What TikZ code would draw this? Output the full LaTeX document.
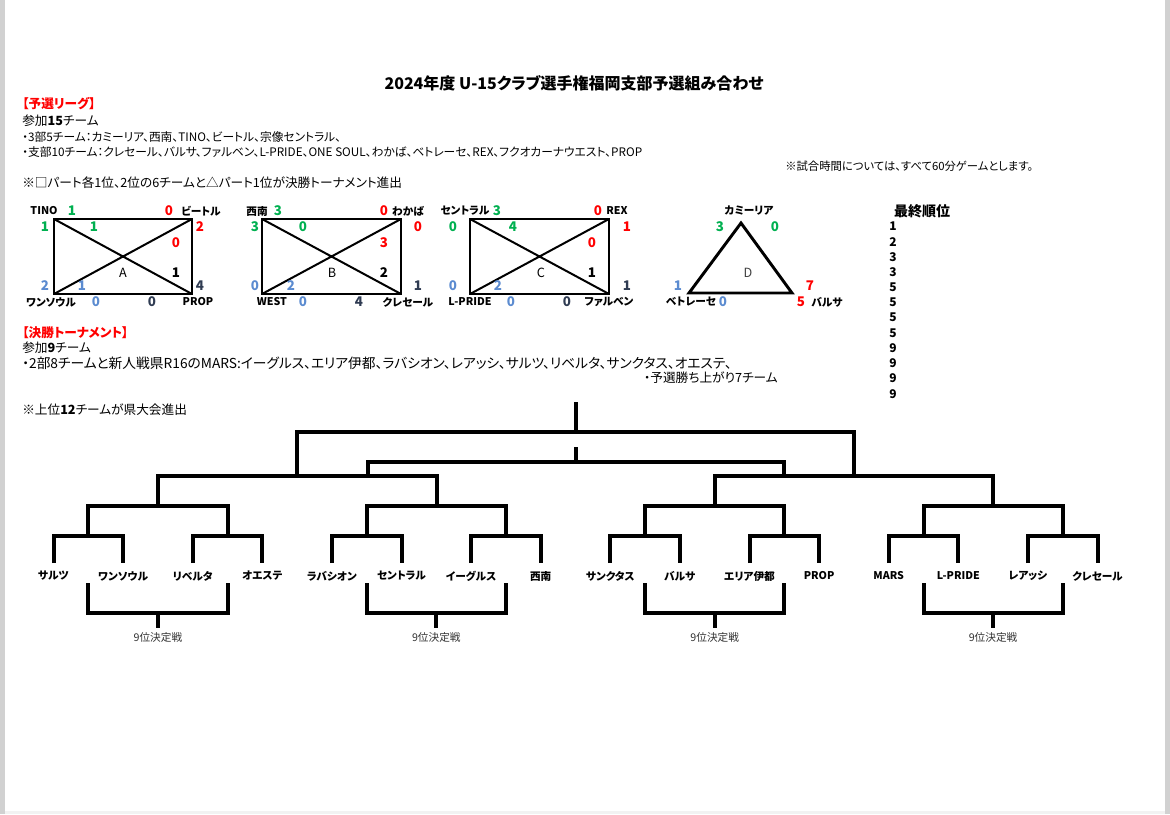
\documentclass[tikz,border=0pt]{standalone}
\usepackage{fontspec}
\setmainfont{Noto Sans CJK JP}[RawFeature=+palt]
\usepackage{tikz}
\usetikzlibrary{positioning}
\definecolor{scgreen}{HTML}{00B050}
\definecolor{scred}{HTML}{FF0000}
\definecolor{scblue}{HTML}{5B8BD0}
\definecolor{scnavy}{HTML}{2F3B52}
\tikzset{
    team/.style={
           inner sep=0pt,
           font=\bfseries\fontsize{8}{10}\selectfont,
           },
    score/.style={
           inner sep=0pt,
           font=\bfseries\fontsize{10}{12}\selectfont,
           },
    letter/.style={
           inner sep=0pt,
           font=\fontsize{9.5}{11}\selectfont,
           },
    txt/.style={
           anchor=west,
           inner sep=0pt,
           font=\fontsize{9.5}{11}\selectfont,
           },
    small/.style={
           font=\fontsize{8.8}{10}\selectfont,
           },
    partbox/.style={line width=2.2pt, line join=miter},
    diag/.style={line width=1.5pt},
    tline/.style={line width=3pt, line join=miter},
}

\begin{document}
\begin{tikzpicture}[x=0.75pt,y=-0.75pt]

    \useasboundingbox (0,0) rectangle (1170,814);
    \fill[black!18] (0,0) rectangle (5,814);
    \fill[black!18] (1165,0) rectangle (1170,814);
    \fill[black!5] (5,811) rectangle (1165,814);

    % header
    \node[font=\bfseries\fontsize{12}{14}\selectfont]
        (title) at (574,83) {2024年度 U-15クラブ選手権福岡支部予選組み合わせ};
    \node[txt,text=scred,font=\bfseries\fontsize{9.5}{11}\selectfont]
        (yosen) at (22,104) {【予選リーグ】};
    \node[txt] (sanka) at (22,121) {参加\textbf{15}チーム};
    \node[txt,small] (bu3) at (22,137) {・3部5チーム：カミーリア、西南、TINO、ビートル、宗像セントラル、};
    \node[txt,small] (shibu) at (22,152) {・支部10チーム：クレセール、バルサ、ファルベン、L-PRIDE、ONE SOUL、わかば、ベトレーセ、REX、フクオカーナウエスト、PROP};
    \node[txt,font=\fontsize{8.5}{10}\selectfont] (jikan) at (785,166) {※試合時間については、すべて60分ゲームとします。};
    \node[txt] (rule) at (22,183) {※□パート各1位、2位の6チームと△パート1位が決勝トーナメント進出};

    % part A
    \coordinate (A1) at (54,219);
    \coordinate (A2) at (192,219);
    \coordinate (A3) at (192,294);
    \coordinate (A4) at (54,294);
    \draw[partbox] (A1) rectangle (A3);
    \draw[diag] (A1) -- (A3) (A4) -- (A2);
    \node[team] (tino) at (44,211) {TINO};
    \node[team] (beetle) at (201,211) {ビートル};
    \node[team] (onesoul) at (51,302) {ワンソウル};
    \node[team] (propA) at (198,302) {PROP};
    \node[score,text=scgreen] at (72,211) {1};
    \node[score,text=scred] at (169,211) {0};
    \node[score,text=scgreen] at (45,227) {1};
    \node[score,text=scgreen] at (94,227) {1};
    \node[score,text=scred] at (200,227) {2};
    \node[score,text=scred] at (176,243) {0};
    \node[letter] (labA) at (123,273) {A};
    \node[score] at (176,273) {1};
    \node[score,text=scblue] at (45,286) {2};
    \node[score,text=scblue] at (82,286) {1};
    \node[score,text=scnavy] at (200,286) {4};
    \node[score,text=scblue] at (96,302) {0};
    \node[score,text=scnavy] at (152,302) {0};

    % part B
    \coordinate (B1) at (262,219);
    \coordinate (B2) at (401,219);
    \coordinate (B3) at (401,294);
    \coordinate (B4) at (262,294);
    \draw[partbox] (B1) rectangle (B3);
    \draw[diag] (B1) -- (B3) (B4) -- (B2);
    \node[team] (seinan) at (257,211) {西南};
    \node[team] (wakaba) at (408,211) {わかば};
    \node[team] (west) at (272,302) {WEST};
    \node[team] (crecerB) at (408,302) {クレセール};
    \node[score,text=scgreen] at (278,211) {3};
    \node[score,text=scred] at (384,211) {0};
    \node[score,text=scgreen] at (255,227) {3};
    \node[score,text=scgreen] at (303,227) {0};
    \node[score,text=scred] at (418,227) {0};
    \node[score,text=scred] at (384,243) {3};
    \node[letter] (labB) at (332,273) {B};
    \node[score] at (384,273) {2};
    \node[score,text=scblue] at (255,286) {0};
    \node[score,text=scblue] at (291,286) {2};
    \node[score,text=scnavy] at (418,286) {1};
    \node[score,text=scblue] at (303,302) {0};
    \node[score,text=scnavy] at (359,302) {4};

    % part C
    \coordinate (C1) at (470,219);
    \coordinate (C2) at (609,219);
    \coordinate (C3) at (609,294);
    \coordinate (C4) at (470,294);
    \draw[partbox] (C1) rectangle (C3);
    \draw[diag] (C1) -- (C3) (C4) -- (C2);
    \node[team] (central) at (465,211) {セントラル};
    \node[team] (rex) at (617,211) {REX};
    \node[team] (lprideC) at (470,302) {L-PRIDE};
    \node[team] (falben) at (609,302) {ファルベン};
    \node[score,text=scgreen] at (497,211) {3};
    \node[score,text=scred] at (598,211) {0};
    \node[score,text=scgreen] at (453,227) {0};
    \node[score,text=scgreen] at (513,227) {4};
    \node[score,text=scred] at (627,227) {1};
    \node[score,text=scred] at (592,243) {0};
    \node[letter] (labC) at (541,273) {C};
    \node[score] at (592,273) {1};
    \node[score,text=scblue] at (453,286) {0};
    \node[score,text=scblue] at (498,286) {2};
    \node[score,text=scnavy] at (627,286) {1};
    \node[score,text=scblue] at (511,302) {0};
    \node[score,text=scnavy] at (567,302) {0};

    % part D
    \coordinate (D1) at (741,223);
    \coordinate (D2) at (689,293);
    \coordinate (D3) at (792,293);
    \draw[partbox] (D1) -- (D2) -- (D3) -- cycle;
    \node[team] (camelia) at (749,211) {カミーリア};
    \node[team] (betlese) at (691,302) {ベトレーセ};
    \node[team] (barsaD) at (827,302) {バルサ};
    \node[score,text=scgreen] at (720,227) {3};
    \node[score,text=scgreen] at (775,227) {0};
    \node[letter,text=black!75] (labD) at (748,273) {D};
    \node[score,text=scblue] at (678,286) {1};
    \node[score,text=scred] at (810,286) {7};
    \node[score,text=scblue] at (723,302) {0};
    \node[score,text=scred] at (801,302) {5};

    % final ranking
    \node[font=\bfseries\fontsize{10.5}{12}\selectfont] (juni) at (922,211) {最終順位};
    \foreach \r [count=\i] in {1,2,3,3,5,5,5,5,9,9,9,9}
        \node[txt,font=\bfseries\fontsize{9}{10}\selectfont] (rank\i) at (889,{226.5+15.2*(\i-1)}) {\r};

    % tournament text
    \node[txt,text=scred,font=\bfseries\fontsize{9.5}{11}\selectfont]
        (kessho) at (22,333) {【決勝トーナメント】};
    \node[txt] (sanka9) at (22,348) {参加\textbf{9}チーム};
    \node[txt,font=\fontsize{10.3}{12}\selectfont] (bu2) at (22,363) {・2部8チームと新人戦県R16のMARS:イーグルス、エリア伊都、ラバシオン、レアッシ、サルツ、リベルタ、サンクタス、オエステ、};
    \node[txt,anchor=east] (agari) at (778,378) {・予選勝ち上がり7チーム};
    \node[txt] (kentaikai) at (22,410) {※上位\textbf{12}チームが県大会進出};

    % tournament bracket
    \foreach \t [count=\i] in {サルツ,ワンソウル,リベルタ,オエステ,ラバシオン,セントラル,イーグルス,西南,サンクタス,バルサ,エリア伊都,PROP,MARS,L-PRIDE,レアッシ,クレセール}{
        \node[team] (t\i) at ({53.5+69.6*(\i-1)},576) {\t};
        \coordinate (l\i) at ({53.5+69.6*(\i-1)},563);
    }
    \foreach \k in {1,...,8}
        \coordinate (p\k) at ({88.3+139.2*(\k-1)},536);
    \foreach \k in {1,...,4}
        \coordinate (q\k) at ({158.1+278.4*(\k-1)},506);
    \foreach \k [evaluate=\k as \a using int(2*\k-1), evaluate=\k as \b using int(2*\k)] in {1,...,8}
        \draw[tline] (l\a) |- (p\k) -| (l\b);
    \foreach \k [evaluate=\k as \a using int(2*\k-1), evaluate=\k as \b using int(2*\k)] in {1,...,4}
        \draw[tline] (p\a) |- (q\k) -| (p\b);

    \coordinate (r1) at (297.3,476);
    \coordinate (r2) at (854.1,476);
    \draw[tline] (q1) |- (r1) -| (q2);
    \draw[tline] (q3) |- (r2) -| (q4);

    \coordinate (fin) at (575.7,432);
    \coordinate (champ) at (575.7,402);
    \draw[tline] (r1) |- (fin) -| (r2);
    \draw[tline] (fin) -- (champ);

    \coordinate (s1) at (368,476);
    \coordinate (s2) at (784,476);
    \coordinate (third) at (575.7,462);
    \coordinate (thirdtop) at (575.7,447);
    \draw[tline] (s1) |- (third) -| (s2);
    \draw[tline] (third) -- (thirdtop);

    % 9th place playoffs
    \foreach \k in {1,...,4}{
        \pgfmathsetmacro\xa{88.3+278.4*(\k-1)}
        \pgfmathsetmacro\xb{\xa+139.2}
        \pgfmathsetmacro\xm{\xa+69.6}
        \coordinate (va\k) at (\xa,583);
        \coordinate (vb\k) at (\xb,583);
        \coordinate (m\k) at (\xm,613);
        \coordinate (w\k) at (\xm,628);
        \draw[tline] (va\k) |- (m\k) -| (vb\k);
        \draw[tline] (m\k) -- (w\k);
        \node[inner sep=0pt,font=\fontsize{8}{10}\selectfont,text=black!80]
            (pl\k) at (\xm,637) {9位決定戦};
    }

\end{tikzpicture}
\end{document}
